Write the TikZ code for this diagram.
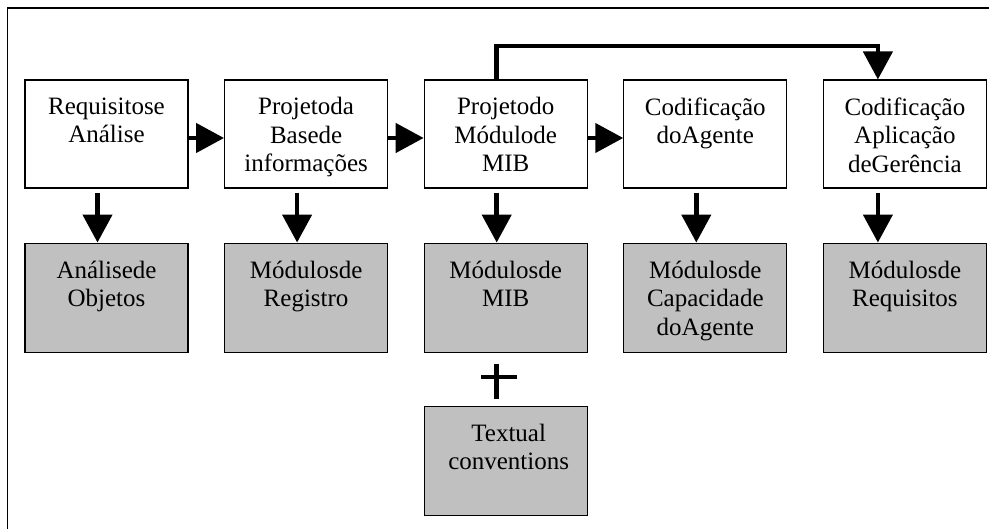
\documentclass[tikz,border=0pt]{standalone}
\usepackage{fontspec}
\setmainfont{Liberation Serif}
\usepackage{tikz}
\usetikzlibrary{arrows.meta,positioning}
\definecolor{boxgray}{RGB}{192,192,192}
\newcommand{\boxfont}{\fontsize{25}{28.5}\selectfont}
\tikzset{
  stage/.style={draw, line width=1.1pt, minimum width=163pt, minimum height=108pt, inner sep=0pt},
  product/.style={stage, fill=boxgray, minimum height=109pt},
  caption/.style={font=\boxfont, align=center, inner sep=0pt, anchor=north, yshift=-18pt},
  flow/.style={line width=4.5pt, -{Triangle[length=28pt,width=29pt]}},
}

\begin{document}
\begin{tikzpicture}[x=1pt,y=1pt]
\useasboundingbox (0,0) rectangle (989,-529);
% frame
\draw[line width=1.1pt] (7.5,-529) |- (989,-8);
% stages
\node[stage, label={[caption]north:{Requisitose\\Análise}}] (p1) at (106.5,-134) {};
\node[stage, right=35.5pt of p1, label={[caption]north:{Projetoda\\Basede\\informações}}] (p2) {};
\node[stage, right=35.5pt of p2, label={[caption]north:{Projetodo\\Módulode\\MIB}}] (p3) {};
\node[stage, right=35.5pt of p3, label={[caption]north:{Codificação\\doAgente}}] (p4) {};
\node[stage, right=35.5pt of p4, label={[caption]north:{Codificação\\Aplicação\\deGerência}}] (p5) {};
% products
\node[product, below=54pt of p1, label={[caption]north:{Análisede\\Objetos}}] (m1) {};
\node[product, below=54pt of p2, label={[caption]north:{Módulosde\\Registro}}] (m2) {};
\node[product, below=54pt of p3, label={[caption]north:{Módulosde\\MIB}}] (m3) {};
\node[product, below=54pt of p4, label={[caption]north:{Módulosde\\Capacidade\\doAgente}}] (m4) {};
\node[product, below=54pt of p5, label={[caption]north:{Módulosde\\Requisitos}}] (m5) {};
\node[product, below=53pt of m3, label={[caption, xshift=3pt]north:{Textual\\conventions}}] (tc) {};
% arrows
\draw[flow] ([yshift=-4pt]p1.east) -- ([yshift=-4pt]p2.west);
\draw[flow] ([yshift=-4pt]p2.east) -- ([yshift=-4pt]p3.west);
\draw[flow] ([yshift=-4pt]p3.east) -- ([yshift=-4pt]p4.west);
\draw[flow] ([xshift=-9pt,yshift=-4pt]p1.south) -- ([xshift=-9pt]m1.north);
\draw[flow] ([xshift=-9pt,yshift=-4pt]p2.south) -- ([xshift=-9pt]m2.north);
\draw[flow] ([xshift=-9pt,yshift=-4pt]p3.south) -- ([xshift=-9pt]m3.north);
\draw[flow] ([xshift=-9pt,yshift=-4pt]p4.south) -- ([xshift=-9pt]m4.north);
\draw[flow] ([xshift=-27pt,yshift=-4pt]p5.south) -- ([xshift=-27pt]m5.north);
\draw[flow] ([xshift=-9pt]p3.north) -- ++(0,33.5) -| ([xshift=-27pt]p5.north);
% plus sign
\coordinate (plus) at ([xshift=-9pt,yshift=-24.5pt]m3.south);
\draw[line width=4.5pt] ([yshift=13.5pt]plus) -- ([yshift=-21.5pt]plus)
  ([xshift=-15.5pt]plus) -- ([xshift=20.5pt]plus);
\end{tikzpicture}
\end{document}
